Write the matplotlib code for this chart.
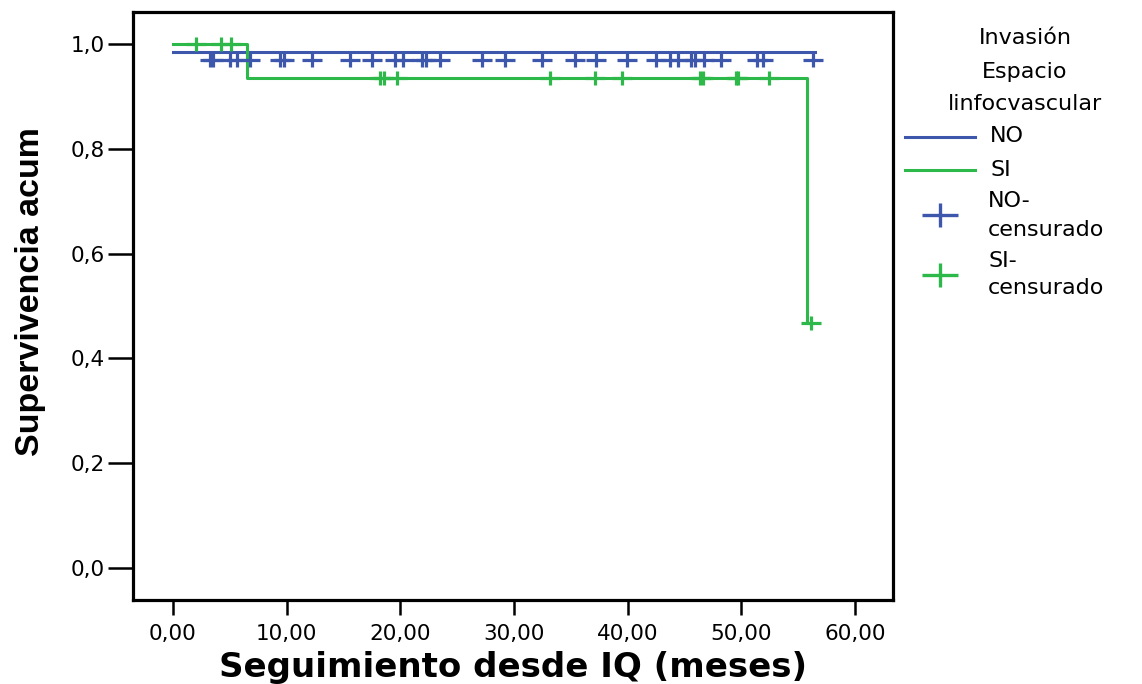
import matplotlib.pyplot as plt
from matplotlib.path import Path
from matplotlib.lines import Line2D
from matplotlib import font_manager

# Kaplan-Meier: Invasión Espacio linfocvascular (NO / SI)
no_t = [0.0, 56.5]
no_s = [0.985, 0.985]
no_cens_t = [3.25, 3.5, 5.0, 5.6, 6.8, 9.4, 9.8, 12.2, 15.6, 17.5, 19.5, 20.2,
             21.9, 22.3, 23.5, 27.2, 29.2, 32.5, 35.4, 37.2, 39.9, 42.5, 43.7,
             44.4, 45.6, 45.9, 46.7, 48.2, 51.4, 51.9, 56.3]
no_cens_s = 0.969

si_t = [0.0, 6.5, 55.8, 56.1]
si_s = [1.0, 0.935, 0.467, 0.467]
si_cens_t = [2.0, 4.2, 5.1,
             18.2, 18.6, 19.7, 33.2, 37.1, 39.5, 46.4, 46.6, 49.5, 49.7, 52.4,
             56.1]
si_cens_s = [1.0, 1.0, 1.0,
             0.935, 0.935, 0.935, 0.935, 0.935, 0.935, 0.935, 0.935, 0.935, 0.935, 0.935,
             0.467]

xticks = [0, 10, 20, 30, 40, 50, 60]
yticks = [0.0, 0.2, 0.4, 0.6, 0.8, 1.0]

BLUE = '#3d57ad'
GREEN = '#2db84a'

installed = {f.name for f in font_manager.fontManager.ttflist}
narrow = 'Liberation Sans Narrow' if 'Liberation Sans Narrow' in installed else 'Liberation Sans'
plt.rcParams['font.family'] = 'DejaVu Sans'

W, H = 1142, 684
fig = plt.figure(figsize=(W / 100, H / 100), dpi=100)


def px(x, y):
    return x / W, 1 - y / H


ax = fig.add_axes([133 / W, 1 - 600 / H, 760 / W, 588 / H])

# wide, flat cross used for censored cases
cross = Path([(-1, 0), (1, 0), (0, -0.65), (0, 0.65)],
             [Path.MOVETO, Path.LINETO, Path.MOVETO, Path.LINETO])

ax.step(no_t, no_s, where='post', color=BLUE, lw=2.2, zorder=3)
ax.step(si_t, si_s, where='post', color=GREEN, lw=2.2, zorder=3)
ax.plot(no_cens_t, [no_cens_s] * len(no_cens_t), ls='none', marker=cross,
        ms=14.5, mew=2.3, color=BLUE, zorder=4)
ax.plot(si_cens_t, si_cens_s, ls='none', marker=cross,
        ms=14.5, mew=2.3, color=GREEN, zorder=4)

x0 = 173
sx = (855 - 173) / 60
ax.set_xlim((133 - x0) / sx, (893 - x0) / sx)
ax.set_ylim((568 - 600) / 524, (568 - 12) / 524)

ax.set_xticks(xticks)
ax.set_xticklabels(['%d,00' % v for v in xticks])
ax.set_yticks(yticks)
ax.set_yticklabels([('%.1f' % v).replace('.', ',') for v in yticks])
ax.tick_params(axis='y', length=18, width=1.8, pad=2, labelsize=15.5)
ax.tick_params(axis='x', length=11, width=1.8, pad=6, labelsize=15.5)
for sp in ax.spines.values():
    sp.set_linewidth(2.3)

ax.set_xlabel('Seguimiento desde IQ (meses)', fontsize=24.5, fontweight='bold',
              labelpad=5)
ax.set_ylabel('Supervivencia acum', family=narrow, fontsize=24.5,
              fontweight='bold')
ax.yaxis.set_label_coords(-0.114, 0.524)

# legend
for txt, y in [('Invasión', 38), ('Espacio', 72), ('linfocvascular', 104)]:
    fig.text(*px(1025, y), txt, ha='center', va='center', fontsize=16)

fig.add_artist(Line2D([905 / W, 975 / W], [1 - 137 / H] * 2, color=BLUE, lw=2.2))
fig.add_artist(Line2D([905 / W, 975 / W], [1 - 170 / H] * 2, color=GREEN, lw=2.2))
fig.text(*px(990, 136), 'NO', va='center', fontsize=16)
fig.text(*px(990, 170), 'SI', va='center', fontsize=16)

fig.add_artist(Line2D([940 / W], [1 - 215 / H], ls='none', marker=cross,
                      ms=26, mew=2.4, color=BLUE))
fig.add_artist(Line2D([940 / W], [1 - 275 / H], ls='none', marker=cross,
                      ms=26, mew=2.4, color=GREEN))
fig.text(*px(988, 201), 'NO-', va='center', fontsize=16)
fig.text(*px(988, 230), 'censurado', va='center', fontsize=16)
fig.text(*px(988, 261), 'SI-', va='center', fontsize=16)
fig.text(*px(988, 288), 'censurado', va='center', fontsize=16)

fig.savefig('out.png', dpi=100)
